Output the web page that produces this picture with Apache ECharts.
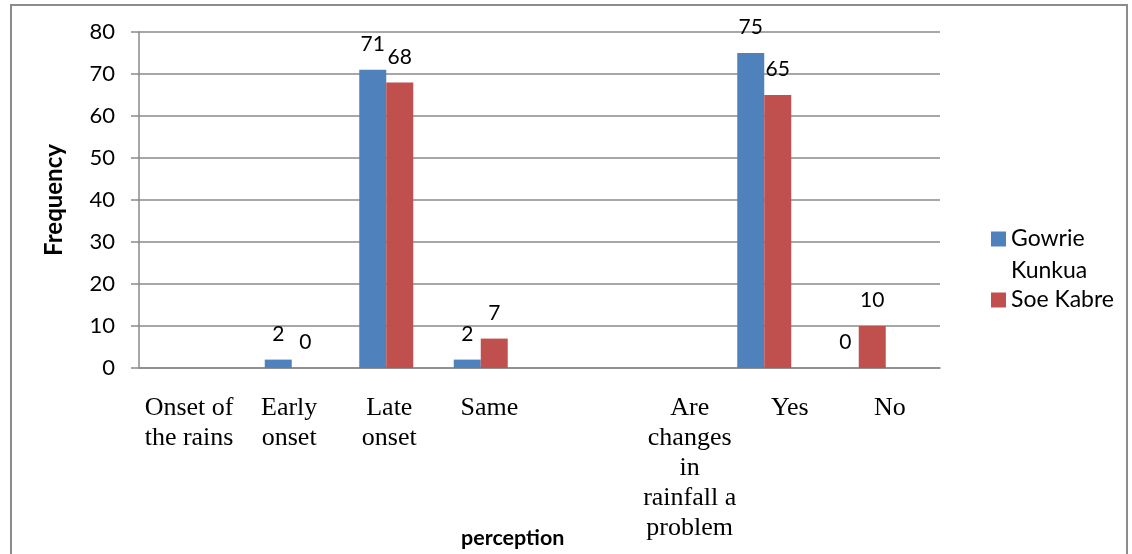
<!DOCTYPE html>
<html>
<head>
<meta charset="utf-8">
<script src="https://cdn.jsdelivr.net/npm/echarts@6/dist/echarts.min.js"></script>
<style>
  html, body { margin: 0; padding: 0; background: #fff; }
  #chart { width: 1132px; height: 554px; }
</style>
</head>
<body>
<div id="chart"></div>
<script>
// categories as typed under the chart (empty slot between the two question groups)
var categories = ['Onset of\nthe rains', 'Early\nonset', 'Late\nonset', 'Same', '', 'Are\nchanges\nin\nrainfall a\nproblem', 'Yes', 'No'];
var gowrieKunkua = ['-', 2, 71, 2, '-', '-', 75, 0];
var soeKabre = ['-', 0, 68, 7, '-', '-', 65, 10];
var yTicks = [0, 10, 20, 30, 40, 50, 60, 70, 80];

var myChart = echarts.init(document.getElementById('chart'));

var barLabel = {
  show: true,
  position: 'top',
  distance: 15,
  color: '#000',
  fontFamily: 'Lato',
  fontSize: 21
};

var option = {
  animation: false,
  backgroundColor: '#fff',
  title: {
    text: 'perception',
    left: 461,
    top: 527,
    padding: 0,
    textStyle: { fontFamily: 'Lato', fontWeight: 'bold', fontSize: 21.5, color: '#000' }
  },
  graphic: [
    {
      type: 'rect',
      shape: { x: 11, y: 5, width: 1116, height: 560 },
      style: { fill: 'none', stroke: '#8c8c8c', lineWidth: 2 },
      silent: true
    }
  ],
  legend: [
    {
      data: ['Gowrie Kunkua'],
      orient: 'vertical',
      left: 991,
      top: 191,
      padding: 0,
      itemWidth: 15,
      itemHeight: 15,
      icon: 'rect',
      // blank first line keeps the square level with "Gowrie"
      formatter: function (name) { return '\n' + name.replace(' ', '\n'); },
      textStyle: { fontFamily: 'Lato', fontSize: 23, color: '#000', lineHeight: 32 }
    },
    {
      data: ['Soe Kabre'],
      orient: 'vertical',
      left: 991,
      top: 285,
      padding: 0,
      itemWidth: 15,
      itemHeight: 15,
      icon: 'rect',
      textStyle: { fontFamily: 'Lato', fontSize: 23, color: '#000', lineHeight: 30 }
    }
  ],
  grid: [
    { left: 139, right: 192, top: 32, bottom: 186 },
    { left: 150, width: 756, top: 32, bottom: 186 }
  ],
  xAxis: [
    {
      type: 'category',
      gridIndex: 0,
      data: categories,
      axisLine: { show: true, lineStyle: { color: '#8a8a8a', width: 1.5 } },
      axisTick: { show: false },
      axisLabel: {
        interval: 0,
        margin: 25,
        color: '#000',
        fontFamily: 'Liberation Serif',
        fontSize: 26,
        lineHeight: 30
      }
    },
    {
      type: 'category',
      gridIndex: 1,
      data: categories,
      show: false
    }
  ],
  yAxis: [
    {
      type: 'value',
      gridIndex: 0,
      min: yTicks[0],
      max: yTicks[yTicks.length - 1],
      interval: 10,
      name: 'Frequency',
      nameLocation: 'middle',
      nameGap: 73,
      nameTextStyle: { fontFamily: 'Lato', fontWeight: 'bold', fontSize: 24, color: '#000' },
      axisLine: { show: true, lineStyle: { color: '#8a8a8a', width: 1.5 } },
      axisTick: { show: true, inside: false, length: 8, lineStyle: { color: '#8a8a8a', width: 1.5 } },
      axisLabel: { margin: 24, color: '#000', fontFamily: 'Lato', fontSize: 22 },
      splitLine: { show: true, lineStyle: { color: '#8a8a8a', width: 1.5 } }
    },
    {
      type: 'value',
      gridIndex: 1,
      min: yTicks[0],
      max: yTicks[yTicks.length - 1],
      interval: 10,
      show: false,
      splitLine: { show: false }
    }
  ],
  series: [
    {
      name: 'Gowrie Kunkua',
      type: 'bar',
      xAxisIndex: 1,
      yAxisIndex: 1,
      barWidth: 27,
      barGap: '0%',
      itemStyle: { color: '#4F81BD' },
      label: barLabel,
      data: gowrieKunkua
    },
    {
      name: 'Soe Kabre',
      type: 'bar',
      xAxisIndex: 1,
      yAxisIndex: 1,
      barWidth: 27,
      barGap: '0%',
      itemStyle: { color: '#C0504D' },
      label: barLabel,
      data: soeKabre
    }
  ]
};

myChart.setOption(option);
</script>
</body>
</html>
